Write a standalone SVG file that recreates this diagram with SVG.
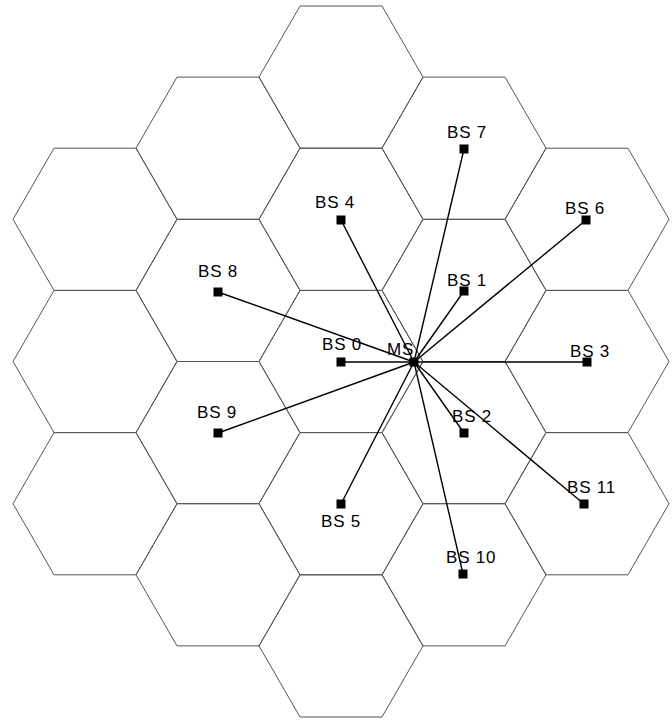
<svg xmlns="http://www.w3.org/2000/svg" xmlns:xlink="http://www.w3.org/1999/xlink" width="672" height="720" viewBox="0 0 672 720">
<style>
.hex{fill:none;stroke:#555;stroke-width:1}
.ln{stroke:#000;stroke-width:1.4}
.bs{fill:#000}
.lbl{font-family:"Liberation Sans",Arial,sans-serif;font-size:17px;letter-spacing:0.8px;fill:#000}
</style>
<defs>
<path id="h" d="M-82,0 L-41,-71.1 L41,-71.1 L82,0 L41,71.1 L-41,71.1 Z"/>
<rect id="sq" x="-4.5" y="-4.5" width="9" height="9"/>
</defs>
<rect width="672" height="720" fill="#fff"/>
<g id="cells" class="hex">
<use xlink:href="#h" x="95" y="219.3"/>
<use xlink:href="#h" x="95" y="361.5"/>
<use xlink:href="#h" x="95" y="503.7"/>
<use xlink:href="#h" x="218" y="148.2"/>
<use xlink:href="#h" x="218" y="290.4"/>
<use xlink:href="#h" x="218" y="432.6"/>
<use xlink:href="#h" x="218" y="574.8"/>
<use xlink:href="#h" x="341" y="77.1"/>
<use xlink:href="#h" x="341" y="219.3"/>
<use xlink:href="#h" x="341" y="361.5"/>
<use xlink:href="#h" x="341" y="503.7"/>
<use xlink:href="#h" x="341" y="645.9"/>
<use xlink:href="#h" x="464" y="148.2"/>
<use xlink:href="#h" x="464" y="290.4"/>
<use xlink:href="#h" x="464" y="432.6"/>
<use xlink:href="#h" x="464" y="574.8"/>
<use xlink:href="#h" x="587" y="219.3"/>
<use xlink:href="#h" x="587" y="361.5"/>
<use xlink:href="#h" x="587" y="503.7"/>
</g>
<g id="connectors" class="ln">
<line x1="414" y1="362" x2="341" y2="362"/>
<line x1="414" y1="362" x2="464" y2="291"/>
<line x1="414" y1="362" x2="464" y2="433"/>
<line x1="414" y1="362" x2="587" y2="362"/>
<line x1="414" y1="362" x2="341" y2="220"/>
<line x1="414" y1="362" x2="341" y2="504"/>
<line x1="414" y1="362" x2="586" y2="220"/>
<line x1="414" y1="362" x2="464" y2="149"/>
<line x1="414" y1="362" x2="218" y2="292"/>
<line x1="414" y1="362" x2="218" y2="433"/>
<line x1="414" y1="362" x2="463" y2="574"/>
<line x1="414" y1="362" x2="584" y2="504"/>
</g>
<g id="MS"><use xlink:href="#sq" class="bs" x="414" y="362"/><text class="lbl" x="387" y="355">MS</text></g>
<g id="BS0"><use xlink:href="#sq" class="bs" x="341" y="362"/><text class="lbl" x="322" y="350">BS 0</text></g>
<g id="BS1"><use xlink:href="#sq" class="bs" x="464" y="291"/><text class="lbl" x="447" y="286">BS 1</text></g>
<g id="BS2"><use xlink:href="#sq" class="bs" x="464" y="433"/><text class="lbl" x="452" y="422">BS 2</text></g>
<g id="BS3"><use xlink:href="#sq" class="bs" x="587" y="362"/><text class="lbl" x="570" y="357">BS 3</text></g>
<g id="BS4"><use xlink:href="#sq" class="bs" x="341" y="220"/><text class="lbl" x="315" y="208">BS 4</text></g>
<g id="BS5"><use xlink:href="#sq" class="bs" x="341" y="504"/><text class="lbl" x="321" y="527">BS 5</text></g>
<g id="BS6"><use xlink:href="#sq" class="bs" x="586" y="220"/><text class="lbl" x="565" y="214">BS 6</text></g>
<g id="BS7"><use xlink:href="#sq" class="bs" x="464" y="149"/><text class="lbl" x="447" y="138">BS 7</text></g>
<g id="BS8"><use xlink:href="#sq" class="bs" x="218" y="292"/><text class="lbl" x="198" y="277">BS 8</text></g>
<g id="BS9"><use xlink:href="#sq" class="bs" x="218" y="433"/><text class="lbl" x="197" y="418">BS 9</text></g>
<g id="BS10"><use xlink:href="#sq" class="bs" x="463" y="574"/><text class="lbl" x="446" y="563">BS 10</text></g>
<g id="BS11"><use xlink:href="#sq" class="bs" x="584" y="504"/><text class="lbl" x="567" y="493">BS 11</text></g>
</svg>
